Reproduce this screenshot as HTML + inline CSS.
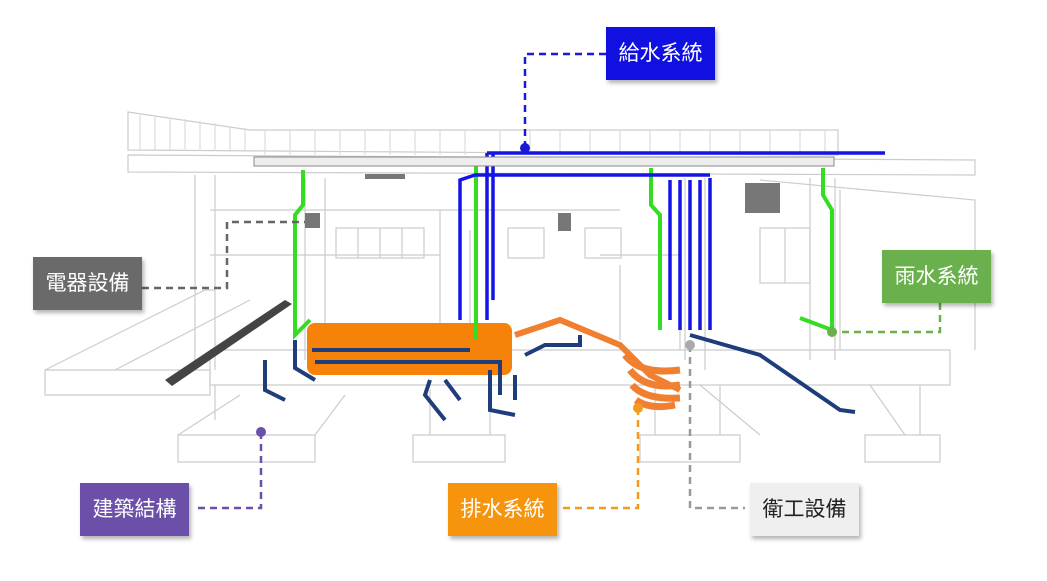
<!DOCTYPE html>
<html><head><meta charset="utf-8"><style>
html,body{margin:0;padding:0;background:#fff;}
body{width:1047px;height:581px;position:relative;overflow:hidden;font-family:"Liberation Sans","Noto Sans CJK TC",sans-serif;}
.lb{position:absolute;width:109px;height:53px;line-height:53px;text-align:center;font-size:21px;color:#fff;box-shadow:2px 3px 4px rgba(0,0,0,.3);}
svg{position:absolute;left:0;top:0;}
</style></head><body>
<svg width="1047" height="581" viewBox="0 0 1047 581">
<g stroke="#ccc" fill="none" stroke-width="1.2">
 <!-- roof railing -->
 <path d="M128 112 L250 130 L838 130 L838 155 L128 150 Z"/>
 <g stroke="#ddd">
 <path d="M140 113V150M155 115V150M170 117V150M185 119V151M200 121V151M215 123V151M230 126V152M245 128V152"/>
 <path d="M265 130V155M290 130V155M315 130V155M340 130V155M365 130V155M390 130V155M415 130V155M440 130V155M465 130V155M500 130V155M530 130V155M560 130V155M590 130V155M620 130V155M650 130V155M680 130V155M710 130V155M740 130V155M770 130V155M800 130V155M825 130V155"/>
 </g>
 <path d="M128 155 L975 160 L975 175 L128 172Z"/>
 <!-- columns -->
 <path d="M195 175V370M215 175V370M305 178V360M325 178V360M685 178V360M705 178V370M810 178V360M835 178V360"/>
 <!-- walls -->
 <path d="M210 210 H620 M210 255 H440 M440 210 V355 M470 230 V330 M600 255 H680 V350 M620 265 V340 M760 180 L975 200 V350 M840 190 V350"/>
 <!-- windows -->
 <rect x="336" y="228" width="88" height="30"/><path d="M358 228V258M380 228V258M402 228V258"/>
 <rect x="508" y="228" width="36" height="30"/><rect x="585" y="228" width="36" height="30"/>
 <rect x="760" y="228" width="50" height="55"/><path d="M785 228V283"/>
 <!-- platform -->
 <path d="M45 370 L205 290 L215 290 M45 370 H210 V395 H45 Z M115 370 L250 300"/>
 <path d="M210 350 H950 V385 H210 Z"/>
 <!-- footings -->
 <path d="M215 385 V420 M178 435 H315 V462 H178Z M178 435 L240 395 M315 435 L345 395"/>
 <path d="M413 435 H505 V462 H413 Z M430 390 V435 M490 390 V435"/>
 <path d="M640 435 H740 V462 H640Z M655 385 V435 M720 385 V435"/>
 <path d="M865 435 H940 V462 H865Z M870 385 L905 435 M920 385 V435"/>
 <path d="M700 385 L760 435"/>
</g>
<!-- trench -->
<path d="M165 380 L285 300 L292 304 L172 386 Z" fill="#444"/>
<!-- equipment boxes -->
<g fill="#777"><rect x="305" y="213" width="15" height="15"/><rect x="558" y="213" width="13" height="18"/><rect x="365" y="174" width="40" height="5"/><rect x="745" y="183" width="35" height="30"/></g>
<!-- orange tank -->
<rect x="307" y="323" width="205" height="52" rx="8" fill="#f7820a"/>
<path d="M515 335 L560 320 L620 345 L650 375 L680 390" stroke="#f08030" stroke-width="6" fill="none"/>
<path d="M625 355 Q640 375 680 370 M630 370 Q645 390 680 385 M632 385 Q645 400 680 398 M636 400 Q650 410 675 405" stroke="#f08030" stroke-width="7" fill="none"/>
<!-- dark blue pipes -->
<g stroke="#1f3d7a" stroke-width="4" fill="none">
<path d="M295 340 V368 L315 380 M265 360 V390 L285 400 M312 350 H470 M315 362 H500 M430 380 L425 395 L445 420 M445 380 L460 400 M490 370 V410 L515 415 M500 360 V395 M515 375 V400"/>
<path d="M690 335 L760 355 L840 410 L855 412"/>
<path d="M525 355 L545 345 H580 V335"/>
</g>
<!-- green pipes -->
<g stroke="#33dd22" stroke-width="4" fill="none">
<path d="M303 170 V205 L295 215 V335 L310 320"/>
<path d="M476 165 V340"/>
<path d="M651 168 V205 L660 215 V330"/>
<path d="M823 168 V195 L832 210 V330 L800 318"/>
</g>
<!-- blue supply pipes -->
<g stroke="#1414e6" stroke-width="3.5" fill="none">
<path d="M487 153 H885"/>
<path d="M487 153 V320 M493 153 V300"/>
<path d="M460 320 V180 L475 175 H710 M710 178 V330 M700 180 V330 M690 180 V330 M680 180 V330 M670 180 V320"/>
</g>
<rect x="254" y="157" width="580" height="9" fill="#eee" stroke="#888"/>
<!-- connectors -->
<g fill="none" stroke-width="2.5" stroke-dasharray="7,5">
<path d="M606 54 H525 V148" stroke="#1a1ad6"/>
<path d="M142 288 H227 V222 H305" stroke="#666"/>
<path d="M940 303 V332 H832" stroke="#6ab04c"/>
<path d="M261 432 V508 H195" stroke="#6b4fa8"/>
<path d="M638 408 V508 H560" stroke="#f39a1e"/>
<path d="M690 345 V508 H745" stroke="#999"/>
</g>
<circle cx="525" cy="148" r="5" fill="#1a1ad6"/>
<circle cx="832" cy="332" r="5" fill="#6ab04c"/>
<circle cx="261" cy="432" r="5" fill="#6b4fa8"/>
<circle cx="638" cy="408" r="5" fill="#f39a1e"/>
<circle cx="690" cy="345" r="5" fill="#aaa"/>
</svg>
<div class="lb" style="left:606px;top:27px;background:#1010e0;">給水系統</div>
<div class="lb" style="left:33px;top:257px;background:#6a6a6a;">電器設備</div>
<div class="lb" style="left:882px;top:250px;background:#6ab04c;">雨水系統</div>
<div class="lb" style="left:80px;top:483px;background:#6b4fa8;">建築結構</div>
<div class="lb" style="left:448px;top:483px;background:#f7940e;">排水系統</div>
<div class="lb" style="left:750px;top:483px;background:#efefef;color:#222;">衛工設備</div>
</body></html>
